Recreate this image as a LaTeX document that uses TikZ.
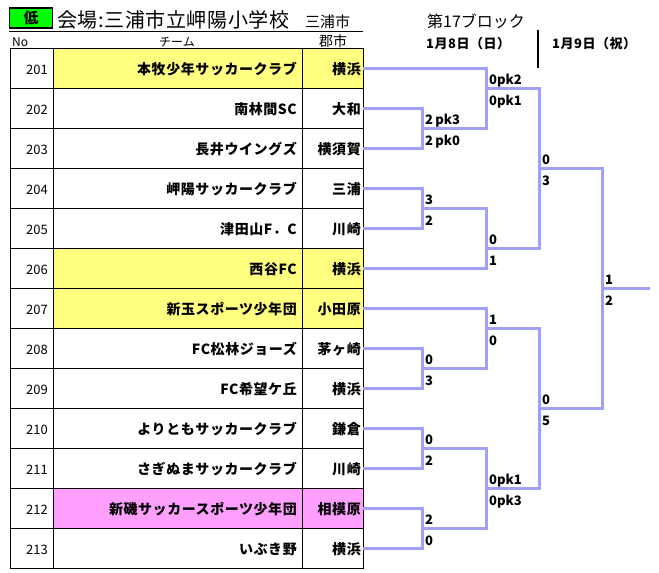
\documentclass[tikz,border=0pt]{standalone}
\usepackage{fontspec}
\setmainfont{Noto Sans CJK JP}
\definecolor{bracketblue}{RGB}{160,160,250}
\definecolor{rowyellow}{RGB}{255,255,128}
\definecolor{rowpink}{RGB}{255,160,255}
\definecolor{lowgreen}{RGB}{0,255,0}
\newcommand{\fsz}[1]{\fontsize{#1}{#1}\selectfont}

\begin{document}
\begin{tikzpicture}
  [x=1pt,y=-1pt,every node/.style={inner sep=0pt},
   grid/.style={line width=0.9pt},
   bracket/.style={draw=bracketblue,line width=3pt},
   numtext/.style={anchor=base east,font=\fsz{13}},
   team/.style={anchor=base east,font=\bfseries\fsz{14}\addfontfeature{LetterSpace=4}},
   score/.style={anchor=base west,font=\bfseries\fsz{13}}]

  \useasboundingbox (0,0) rectangle (659,573);

  % heading
  \node[draw,line width=1.8pt,fill=lowgreen,minimum width=43pt,minimum height=20pt,font=\bfseries\fsz{15}] (low) at (31,18) {低};
  \node[anchor=base west,font=\fsz{20}\addfontfeature{LetterSpace=3}] (venue) at (57,27) {会場:三浦市立岬陽小学校};
  \node[anchor=base west,font=\fsz{15}] (venuecity) at (305,27) {三浦市};
  \draw (9,31) -- (363,31);
  \node[anchor=base west,font=\fsz{12}] (hno) at (12,46) {No};
  \node[anchor=base,font=\fsz{12}] (hteam) at (177,46) {チーム};
  \node[anchor=base,font=\fsz{14}] (hcity) at (333,46) {郡市};

  \node[anchor=base west,font=\fsz{16}] (block) at (427,27) {第17ブロック};
  \node[anchor=base west,font=\bfseries\fsz{13}\addfontfeature{LetterSpace=4}] (day1) at (426,48) {1月8日（日）};
  \node[anchor=base west,font=\bfseries\fsz{13}\addfontfeature{LetterSpace=4}] (day2) at (552,48) {1月9日（祝）};
  \draw[line width=2pt] (538,30) -- (538,68);

  % table
  \fill[rowyellow] (53,48) rectangle (363,88);
  \fill[rowyellow] (53,248) rectangle (363,328);
  \fill[rowpink] (53,488) rectangle (363,528);
  \draw[grid] (10,48) rectangle (363,568);
  \draw[grid] (53,48) -- (53,568) (302,48) -- (302,568);
  \foreach \y in {88,128,...,528}
    \draw[grid] (10,\y) -- (363,\y);

  \foreach \no/\team/\city [count=\i] in
    {201/本牧少年サッカークラブ/横浜,202/南林間SC/大和,203/長井ウイングズ/横須賀,
     204/岬陽サッカークラブ/三浦,205/津田山F．C/川崎,206/西谷FC/横浜,
     207/新玉スポーツ少年団/小田原,208/FC松林ジョーズ/茅ヶ崎,209/FC希望ケ丘/横浜,
     210/よりともサッカークラブ/鎌倉,211/さぎぬまサッカークラブ/川崎,
     212/新磯サッカースポーツ少年団/相模原,213/いぶき野/横浜}
  {
    \node[numtext] (n\no) at (48,{34.5+40*\i}) {\no};
    \node[team] (t\no) at (297,{34.5+40*\i}) {\team};
    \node[team] (c\no) at (361,{34.5+40*\i}) {\city};
    \coordinate (e\no) at (363,{28+40*\i});
  }

  % bracket
  \coordinate (m1) at (422,128);
  \coordinate (m2) at (486,88);
  \coordinate (m3) at (422,208);
  \coordinate (m4) at (486,248);
  \coordinate (m5) at (539,168);
  \coordinate (m6) at (422,368);
  \coordinate (m7) at (486,328);
  \coordinate (m8) at (422,448);
  \coordinate (m9) at (422,528);
  \coordinate (m10) at (486,488);
  \coordinate (m11) at (539,408);
  \coordinate (m12) at (602,288);
  \coordinate (fin) at (650,288);

  \foreach \from/\to in {e202/m1,e203/m1,e201/m2,m1/m2,e204/m3,e205/m3,m3/m4,e206/m4,
                         m2/m5,m4/m5,e208/m6,e209/m6,e207/m7,m6/m7,e210/m8,e211/m8,
                         e212/m9,e213/m9,m8/m10,m9/m10,m7/m11,m10/m11,m5/m12,m11/m12}
    \draw[bracket] (\from) -| (\to);
  \draw[bracket] (m12) -- (fin);

  \foreach \m/\up/\dn in {m1/{2\,pk3}/{2\,pk0},m2/0pk2/0pk1,m3/3/2,m4/0/1,m5/0/3,m6/0/3,
                          m7/1/0,m8/0/2,m9/2/0,m10/0pk1/0pk3,m11/0/5,m12/1/2}
  {
    \node[score] (\m-up) at ([xshift=3pt,yshift=3.5pt]\m) {\up};
    \node[score] (\m-dn) at ([xshift=3pt,yshift=-17pt]\m) {\dn};
  }
\end{tikzpicture}
\end{document}
